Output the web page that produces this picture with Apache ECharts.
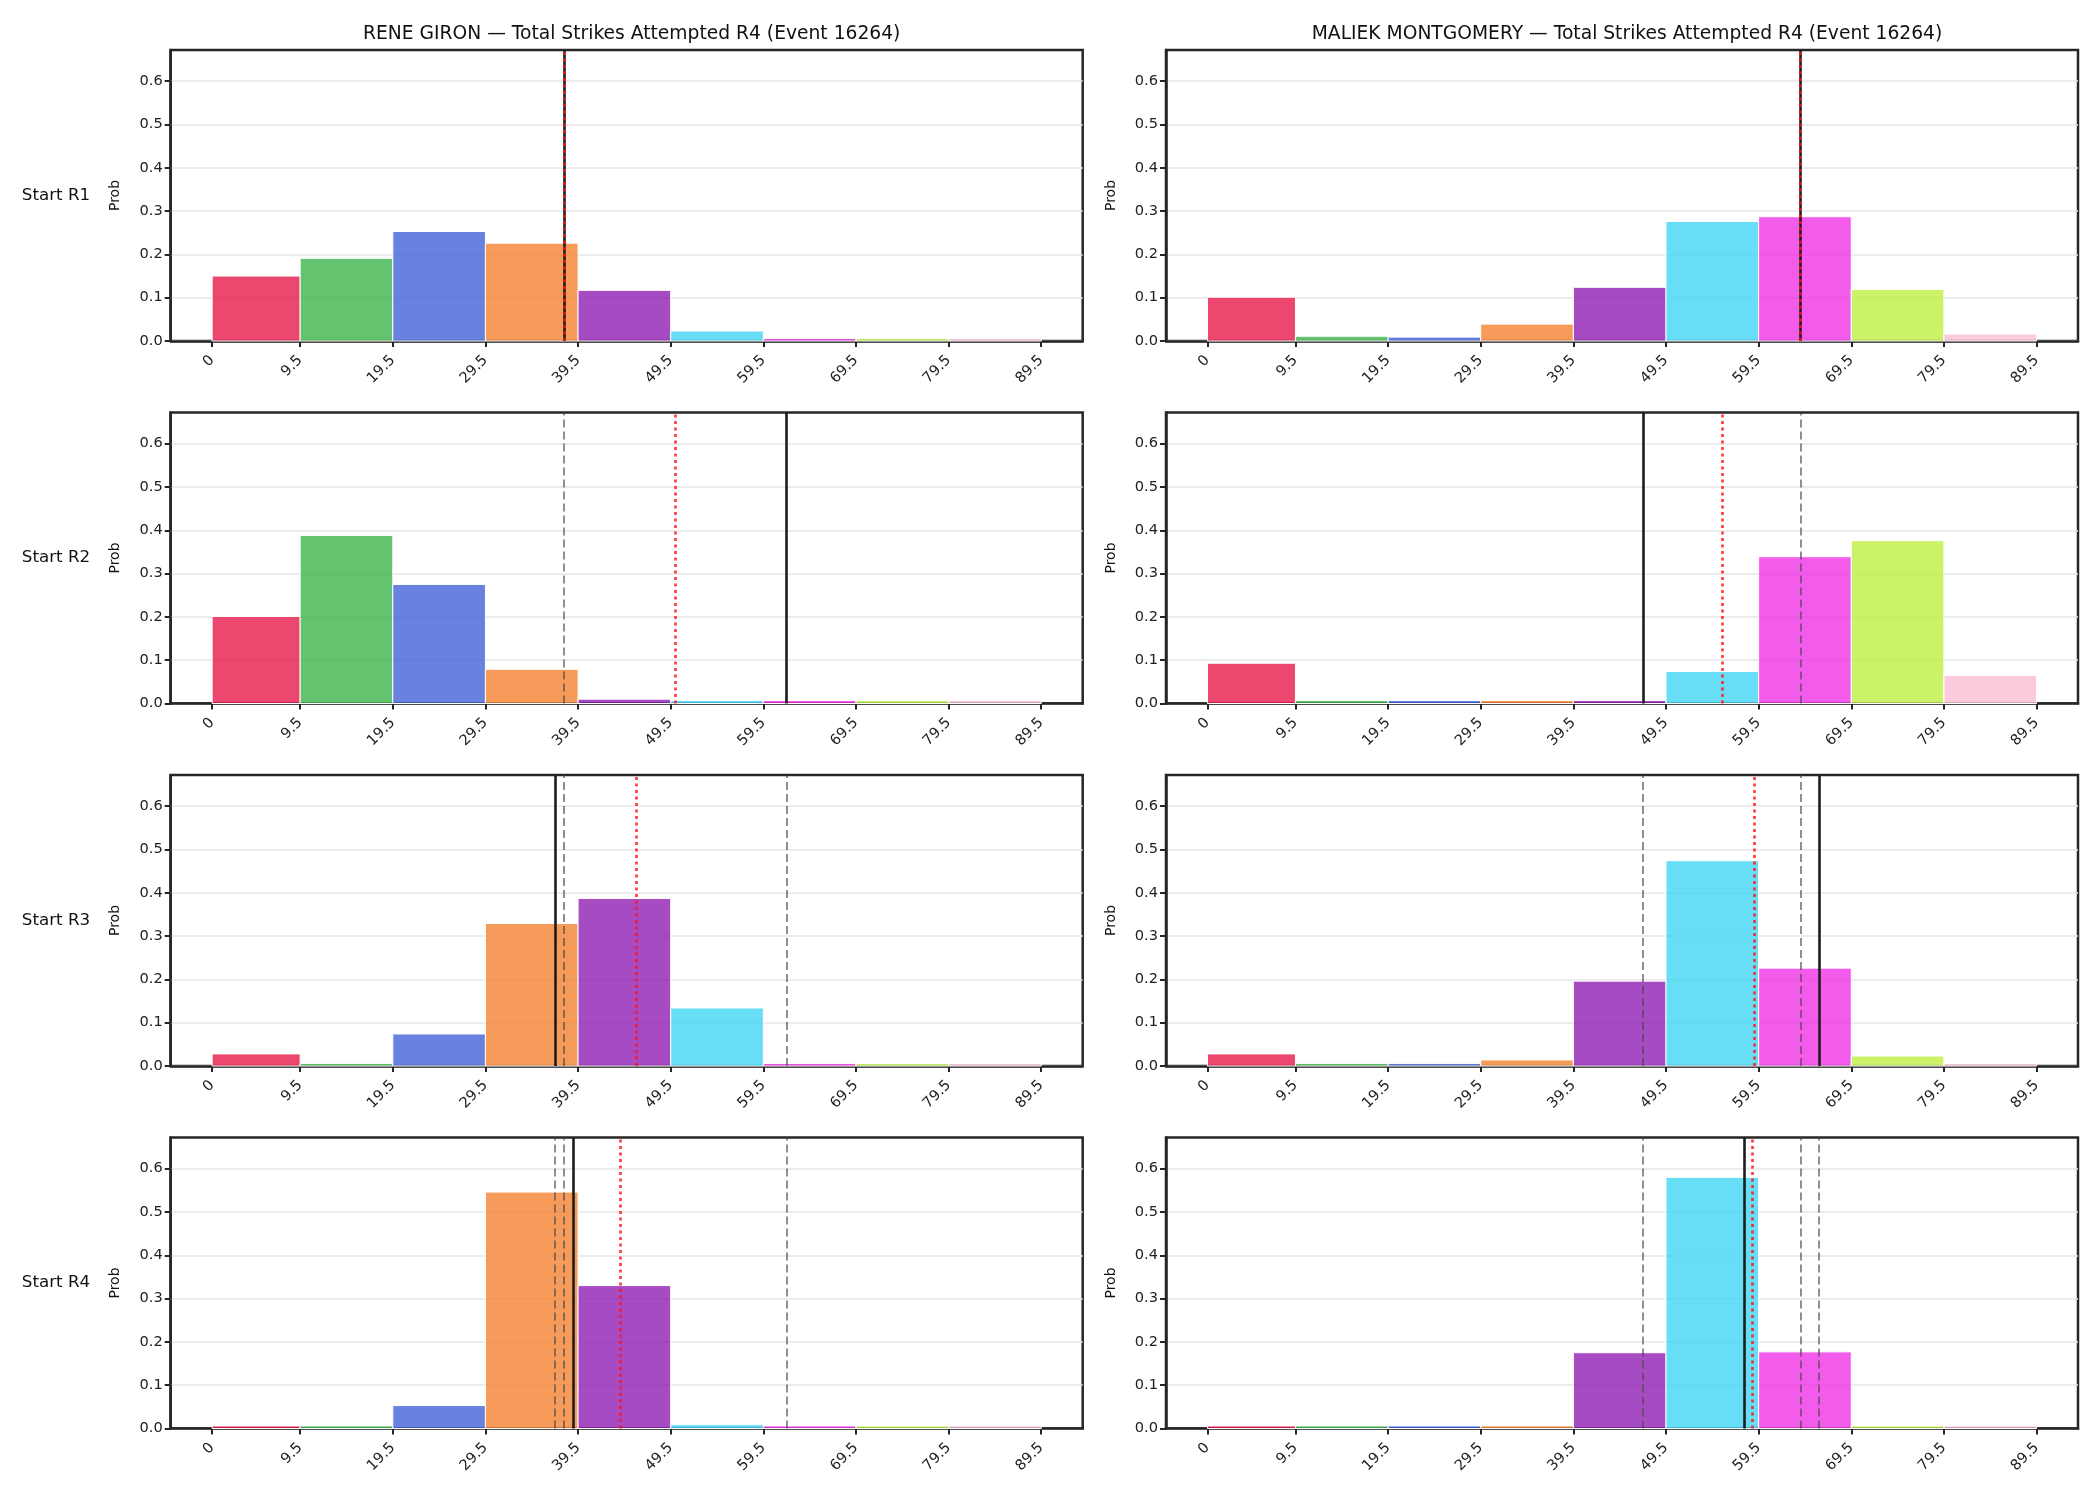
<!DOCTYPE html>
<html><head><meta charset="utf-8">
<script src="https://cdn.jsdelivr.net/npm/echarts@6/dist/echarts.min.js"></script>
<style>html,body{margin:0;padding:0;background:#fff}#c{width:2100px;height:1500px}</style>
</head><body><div id="c"></div>
<script>
// ---- data ----
const binEdges = [0, 9.5, 19.5, 29.5, 39.5, 49.5, 59.5, 69.5, 79.5, 89.5];
const xTickLabels = ['0', '9.5', '19.5', '29.5', '39.5', '49.5', '59.5', '69.5', '79.5', '89.5'];
const yTickValues = [0, 0.1, 0.2, 0.3, 0.4, 0.5, 0.6];
const yTickLabels = ['0.0', '0.1', '0.2', '0.3', '0.4', '0.5', '0.6'];
const rowLabels = ['Start R1', 'Start R2', 'Start R3', 'Start R4'];
const panelTitles = [
  'RENE GIRON — Total Strikes Attempted R4 (Event 16264)',
  'MALIEK MONTGOMERY — Total Strikes Attempted R4 (Event 16264)'
];
const barColors = ['#e6194b', '#3cb44b', '#4363d8', '#f58231', '#911eb4', '#42d4f4', '#f032e6', '#bfef45', '#fabed4'];

const gironProbR1 = [0.150, 0.191, 0.253, 0.226, 0.117, 0.023, 0.006, 0.006, 0.006];
const gironProbR2 = [0.201, 0.388, 0.275, 0.079, 0.010, 0.007, 0.007, 0.007, 0.007];
const gironProbR3 = [0.028, 0.006, 0.074, 0.329, 0.387, 0.134, 0.006, 0.006, 0.006];
const gironProbR4 = [0.006, 0.006, 0.053, 0.546, 0.330, 0.009, 0.006, 0.006, 0.006];
const montProbR1 = [0.101, 0.011, 0.009, 0.039, 0.124, 0.276, 0.287, 0.119, 0.016];
const montProbR2 = [0.093, 0.007, 0.007, 0.007, 0.007, 0.074, 0.339, 0.376, 0.065];
const montProbR3 = [0.028, 0.006, 0.006, 0.014, 0.196, 0.474, 0.226, 0.023, 0.006];
const montProbR4 = [0.006, 0.006, 0.006, 0.006, 0.175, 0.580, 0.177, 0.006, 0.006];

const gironSolid = [38, 62, 37, 39];
const gironDotted = [38, 50, 45.8, 44];
const montSolid = [64, 47, 66, 58];
const montDotted = [64, 55.6, 59, 58.8];

const yMax = 0.672;

// ---- layout ----
const FONT = 'DejaVu Sans';
const colLeft = [170.7, 1166];
const gridW = 912;
const rowTop = [50, 412.5, 775, 1137.5];
const gridH = 291;

const panels = [
  [gironProbR1, gironProbR2, gironProbR3, gironProbR4],
  [montProbR1, montProbR2, montProbR3, montProbR4]
];
const solids = [gironSolid, montSolid];
const dotteds = [gironDotted, montDotted];

function hexA(hex, a) {
  const n = parseInt(hex.slice(1), 16);
  return 'rgba(' + ((n >> 16) & 255) + ',' + ((n >> 8) & 255) + ',' + (n & 255) + ',' + a + ')';
}

const grids = [], xAxes = [], yAxes = [], series = [], titles = [], graphics = [];
let gi = 0;
for (let c = 0; c < 2; c++) {
  titles.push({
    text: panelTitles[c], left: colLeft[c] + gridW / 2, top: 20, textAlign: 'center',
    textStyle: { fontFamily: FONT, fontSize: 18.7, fontWeight: 'normal', color: '#111' }
  });
  for (let r = 0; r < 4; r++) {
    grids.push({
      left: colLeft[c], top: rowTop[r], width: gridW, height: gridH,
      show: true, borderColor: '#262626', borderWidth: 2.5, backgroundColor: 'transparent'
    });
    xAxes.push({
      gridIndex: gi, type: 'value', min: -4.475, max: 93.975,
      axisLine: { show: true, onZero: false, lineStyle: { color: '#262626', width: 2.5 } },
      axisTick: { show: true, customValues: binEdges, length: 6, lineStyle: { color: '#262626', width: 2 } },
      axisLabel: {
        customValues: binEdges, rotate: 45, margin: 17,
        fontFamily: FONT, fontSize: 14.6, color: '#222',
        formatter: v => { const k = binEdges.indexOf(v); return k >= 0 ? xTickLabels[k] : ''; }
      },
      splitLine: { show: false }
    });
    yAxes.push({
      gridIndex: gi, type: 'value', min: 0, max: yMax,
      name: 'Prob', nameLocation: 'middle', nameGap: 48, nameRotate: 90,
      nameTextStyle: { fontFamily: FONT, fontSize: 14, color: '#111' },
      axisLine: { show: true, onZero: false, lineStyle: { color: '#262626', width: 2.5 } },
      axisTick: { show: true, customValues: yTickValues, length: 6, lineStyle: { color: '#262626', width: 2 } },
      axisLabel: {
        customValues: yTickValues, margin: 8, fontFamily: FONT, fontSize: 14.6, color: '#222',
        formatter: v => { const k = yTickValues.findIndex(t => Math.abs(t - v) < 1e-9); return k >= 0 ? yTickLabels[k] : ''; }
      },
      splitLine: { show: true, lineStyle: { color: '#e6e6e6', width: 1.5 } }
    });
    const probs = panels[c][r];
    const data = probs.map((p, i) => [binEdges[i], binEdges[i + 1], p, i]);
    const lines = [];
    for (let k = 0; k < r; k++) {
      lines.push({ xAxis: solids[c][k], lineStyle: { color: 'rgba(70,70,70,0.75)', width: 1.6, type: [8, 4] } });
    }
    lines.push({ xAxis: solids[c][r], lineStyle: { color: '#1c1c1c', width: 2.6, type: 'solid' } });
    lines.push({ xAxis: dotteds[c][r], lineStyle: { color: 'rgba(255,20,20,0.85)', width: 2.6, type: [3, 3.5] } });
    series.push({
      type: 'custom', xAxisIndex: gi, yAxisIndex: gi, silent: true,
      encode: { x: [0, 1], y: 2 },
      data: data,
      renderItem: (params, api) => {
        const p0 = api.coord([api.value(0), api.value(2)]);
        const p1 = api.coord([api.value(1), 0]);
        return {
          type: 'rect',
          shape: { x: p0[0], y: p0[1], width: p1[0] - p0[0], height: p1[1] - p0[1] },
          style: { fill: hexA(barColors[api.value(3)], 0.8), stroke: '#ffffff', lineWidth: 1 }
        };
      },
      markLine: {
        symbol: 'none', silent: true, animation: false,
        label: { show: false },
        data: lines
      }
    });
    if (c === 0) {
      graphics.push({
        type: 'text', x: 56, y: rowTop[r] + gridH / 2,
        style: { text: rowLabels[r], font: '16.7px "DejaVu Sans"', fill: '#111', textAlign: 'center', textVerticalAlign: 'middle' }
      });
    }
    gi++;
  }
}

const chart = echarts.init(document.getElementById('c'), null, { renderer: 'canvas' });
chart.setOption({
  animation: false,
  backgroundColor: '#ffffff',
  title: titles,
  grid: grids,
  xAxis: xAxes,
  yAxis: yAxes,
  series: series,
  graphic: graphics
});
</script>
</body></html>
